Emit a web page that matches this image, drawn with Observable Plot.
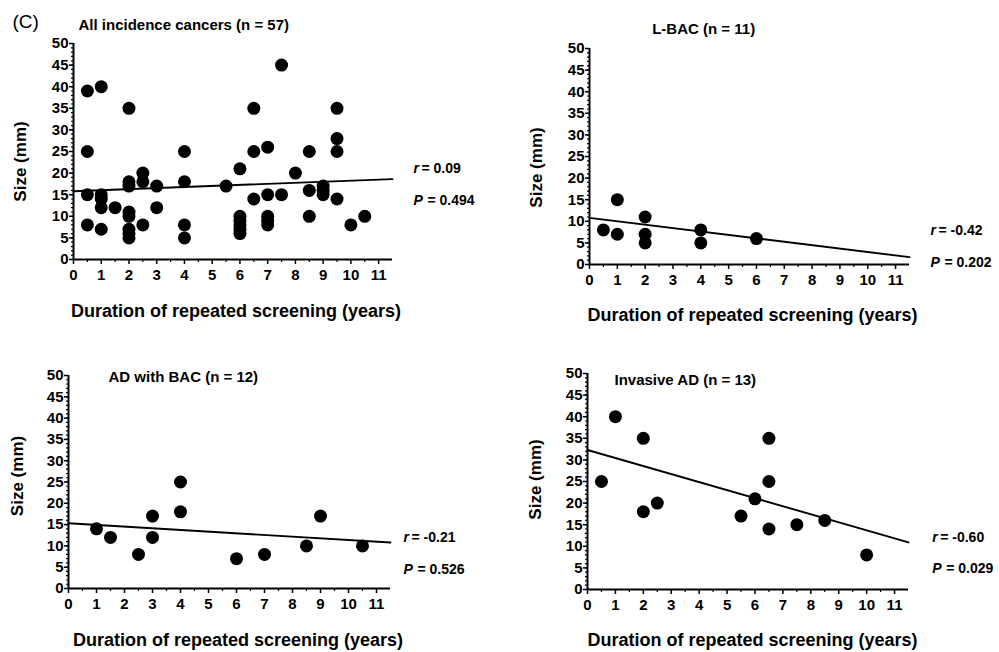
<!DOCTYPE html>
<html>
<head>
<meta charset="utf-8">
<script src="https://cdn.jsdelivr.net/npm/d3@7"></script>
<script src="https://cdn.jsdelivr.net/npm/@observablehq/plot@0.6"></script>
<style>
html, body { margin: 0; padding: 0; background: #fff; }
#fig { position: relative; width: 999px; height: 652px; overflow: hidden; background: #fff; }
.panel { position: absolute; }
</style>
</head>
<body>
<div id="fig"></div>
<script>
// ---------- data ----------
const titles = ["All incidence cancers (n = 57)", "L-BAC (n = 11)", "AD with BAC (n = 12)", "Invasive AD (n = 13)"];
const rValues = ["0.09", "-0.42", "-0.21", "-0.60"];
const pValues = ["0.494", "0.202", "0.526", "0.029"];
// fitted line: size at duration 0 and at duration 11.5
const fitAtStart = [15.8, 10.8, 15.3, 32.3];
const fitAtEnd = [18.6, 1.7, 10.8, 10.9];
const xTicks = [0, 1, 2, 3, 4, 5, 6, 7, 8, 9, 10, 11];
const yTicks = [0, 5, 10, 15, 20, 25, 30, 35, 40, 45, 50];

const allDuration = [0.5, 0.5, 0.5, 0.5, 1, 1, 1, 1, 1, 1.5, 2, 2, 2, 2, 2, 2, 2, 2, 2.5, 2.5, 2.5, 3, 3, 4, 4, 4, 4, 5.5,
  6, 6, 6, 6, 6, 6, 6.5, 6.5, 6.5, 7, 7, 7, 7, 7, 7.5, 7.5, 8, 8.5, 8.5, 8.5, 9, 9, 9, 9.5, 9.5, 9.5, 9.5, 10, 10.5];
const allSize = [39, 25, 15, 8, 40, 15, 14, 12, 7, 12, 35, 18, 17, 11, 10, 7, 6, 5, 20, 18, 8, 17, 12, 25, 18, 8, 5, 17,
  21, 10, 9, 8, 7, 6, 35, 25, 14, 26, 15, 10, 9, 8, 45, 15, 20, 25, 16, 10, 17, 16, 15, 35, 28, 25, 14, 8, 10];

const lbacDuration = [0.5, 1, 1, 2, 2, 2, 4, 4, 6];
const lbacSize = [8, 15, 7, 11, 7, 5, 8, 5, 6];

const adbacDuration = [1, 1.5, 2.5, 3, 3, 4, 4, 6, 7, 8.5, 9, 10.5];
const adbacSize = [14, 12, 8, 17, 12, 25, 18, 7, 8, 10, 17, 10];

const invDuration = [0.5, 1, 2, 2, 2.5, 5.5, 6, 6.5, 6.5, 6.5, 7.5, 8.5, 10];
const invSize = [25, 40, 35, 18, 20, 17, 21, 35, 25, 14, 15, 16, 8];

const seriesDuration = [allDuration, lbacDuration, adbacDuration, invDuration];
const seriesSize = [allSize, lbacSize, adbacSize, invSize];

// ---------- layout ----------
const FONT = '"Liberation Sans", Arial, Helvetica, sans-serif';
const layout = [
  {left: 0, top: 0, w: 500, h: 326, ml: 73, mr: 108, mt: 43, mb: 67,
   title: [5, -18], ylab: [-53, 10], xlab: [3, 52], r: [21, -91], p: [21, -59]},
  {left: 500, top: 0, w: 499, h: 326, ml: 89, mr: 90, mt: 48, mb: 62,
   title: [62.7, -19], ylab: [-52.6, 11], xlab: [3, 51], r: [21, -34], p: [21, -2]},
  {left: 0, top: 326, w: 500, h: 326, ml: 68, mr: 110, mt: 49, mb: 64,
   title: [40, 1.7], ylab: [-51, -6], xlab: [8.5, 52], r: [13, -50.7], p: [13, -19]},
  {left: 500, top: 326, w: 499, h: 326, ml: 87, mr: 91, mt: 47, mb: 63,
   title: [27, 7], ylab: [-52, -2], xlab: [4.5, 51], r: [23.7, -52.3], p: [23.7, -20.7]}
];

const fig = document.getElementById("fig");

layout.forEach((L, i) => {
  const pts = seriesDuration[i].map((d, j) => ({duration: d, size: seriesSize[i][j]}));
  const fit = [{duration: 0, size: fitAtStart[i]}, {duration: 11.5, size: fitAtEnd[i]}];
  const txt = {text: d => d, fill: "#000", fontWeight: "bold", lineAnchor: "middle"};
  const marks = [
    Plot.axisY({ticks: d3.range(0, 51, 1), tickSize: 2, fill: "none", label: null, strokeWidth: 1.2}),
    Plot.axisY({ticks: yTicks, tickSize: 4, tickPadding: 1, fontSize: 15, fontWeight: "bold", label: null, strokeWidth: 1.5}),
    Plot.axisX({ticks: d3.range(0.5, 11.5, 1), tickSize: 3, fill: "none", label: null, strokeWidth: 1.2}),
    Plot.axisX({ticks: xTicks, tickSize: 5, tickPadding: 5, fontSize: 15, fontWeight: "bold", label: null, strokeWidth: 1.5}),
    Plot.ruleX([0], {strokeWidth: 2}),
    Plot.ruleY([0], {strokeWidth: 2}),
    Plot.line(fit, {x: "duration", y: "size", strokeWidth: 1.9, stroke: "#000"}),
    Plot.dot(pts, {x: "duration", y: "size", r: 6.5, fill: "#000"}),
    Plot.text([titles[i]], {...txt, frameAnchor: "top-left", textAnchor: "start", dx: L.title[0], dy: L.title[1], fontSize: 15}),
    Plot.text(["Size (mm)"], {...txt, frameAnchor: "left", textAnchor: "middle", rotate: -90, dx: L.ylab[0], dy: L.ylab[1], fontSize: 17}),
    Plot.text(["Duration of repeated screening (years)"], {...txt, frameAnchor: "bottom", textAnchor: "middle", dx: L.xlab[0], dy: L.xlab[1], fontSize: 18}),
    Plot.text(["r"], {...txt, frameAnchor: "bottom-right", textAnchor: "start", fontStyle: "italic", dx: L.r[0], dy: L.r[1], fontSize: 14}),
    Plot.text(["= " + rValues[i]], {...txt, frameAnchor: "bottom-right", textAnchor: "start", dx: L.r[0] + 8, dy: L.r[1], fontSize: 14}),
    Plot.text(["P"], {...txt, frameAnchor: "bottom-right", textAnchor: "start", fontStyle: "italic", dx: L.p[0], dy: L.p[1], fontSize: 14}),
    Plot.text(["= " + pValues[i]], {...txt, frameAnchor: "bottom-right", textAnchor: "start", dx: L.p[0] + 14, dy: L.p[1], fontSize: 14})
  ];
  if (i === 0) {
    marks.push(Plot.text(["(C)"], {text: d => d, fill: "#000", lineAnchor: "middle", frameAnchor: "top-left", textAnchor: "start", dx: -61, dy: -22, fontSize: 19}));
  }
  const chart = Plot.plot({
    width: L.w, height: L.h,
    marginLeft: L.ml, marginRight: L.mr, marginTop: L.mt, marginBottom: L.mb,
    style: {fontFamily: FONT, color: "#000", background: "#fff", overflow: "visible"},
    x: {domain: [0, 11.5]},
    y: {domain: [0, 50]},
    marks
  });
  chart.classList.add("panel");
  chart.style.left = L.left + "px";
  chart.style.top = L.top + "px";
  fig.appendChild(chart);
});
</script>
</body>
</html>
